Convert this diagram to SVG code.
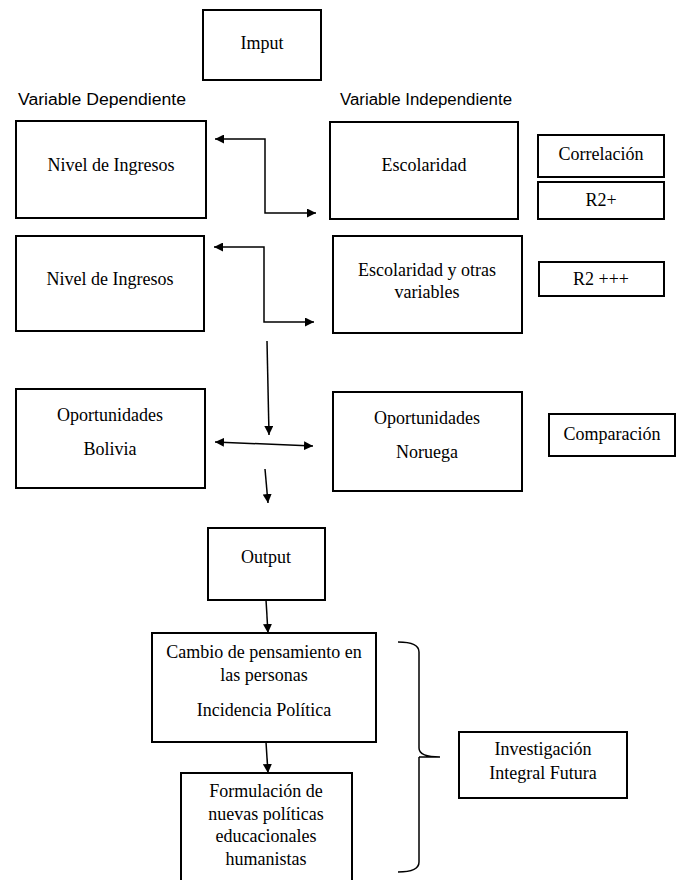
<svg xmlns="http://www.w3.org/2000/svg" width="677" height="880" viewBox="0 0 677 880">
<style>
.box{fill:#fff;stroke:#000;stroke-width:2}
.t{font-family:"Liberation Serif","Times New Roman",serif;font-size:18px;fill:#000;text-anchor:middle}
.s{font-family:"Liberation Sans",Arial,sans-serif;font-size:16px;fill:#000}
.c{fill:none;stroke:#000;stroke-width:1.5}
</style>
<defs>
<marker id="ah" viewBox="0 0 10 10" refX="10" refY="5" markerWidth="9" markerHeight="9" markerUnits="userSpaceOnUse" orient="auto-start-reverse">
<path d="M0,0 L10,5 L0,10 Z" fill="#000"/>
</marker>
</defs>
<rect width="677" height="880" fill="#fff"/>
<g id="imput"><rect class="box" x="203" y="10" width="118" height="70"/><text class="t" x="262" y="49">Imput</text></g>
<text class="s" x="18" y="105" textLength="168" lengthAdjust="spacingAndGlyphs">Variable Dependiente</text>
<text class="s" x="340" y="105" textLength="172" lengthAdjust="spacingAndGlyphs">Variable Independiente</text>
<g id="nivel1"><rect class="box" x="16" y="121" width="190" height="97"/><text class="t" x="111" y="171">Nivel de Ingresos</text></g>
<g id="escolaridad"><rect class="box" x="330" y="122" width="188" height="97"/><text class="t" x="424" y="171">Escolaridad</text></g>
<g id="correlacion"><rect class="box" x="538" y="135" width="126" height="42"/><text class="t" x="601" y="160">Correlación</text></g>
<g id="r2plus"><rect class="box" x="538" y="182" width="126" height="37"/><text class="t" x="601" y="206">R2+</text></g>
<g id="nivel2"><rect class="box" x="16" y="236" width="188" height="95"/><text class="t" x="110" y="285">Nivel de Ingresos</text></g>
<g id="escolaridad2"><rect class="box" x="333" y="236" width="189" height="97"/><text class="t" x="427" y="276">Escolaridad y otras</text><text class="t" x="427" y="298">variables</text></g>
<g id="r2ppp"><rect class="box" x="539" y="262" width="125" height="34"/><text class="t" x="601" y="285">R2 +++</text></g>
<g id="bolivia"><rect class="box" x="16" y="389" width="189" height="99"/><text class="t" x="110" y="421">Oportunidades</text><text class="t" x="110" y="455">Bolivia</text></g>
<g id="noruega"><rect class="box" x="333" y="392" width="189" height="99"/><text class="t" x="427" y="424">Oportunidades</text><text class="t" x="427" y="458">Noruega</text></g>
<g id="comparacion"><rect class="box" x="549" y="414" width="126" height="42"/><text class="t" x="612" y="440">Comparación</text></g>
<g id="output"><rect class="box" x="208" y="528" width="117" height="72"/><text class="t" x="266" y="563">Output</text></g>
<g id="cambio"><rect class="box" x="152" y="633" width="224" height="109"/><text class="t" x="264" y="658">Cambio de pensamiento en</text><text class="t" x="264" y="681">las personas</text><text class="t" x="264" y="716">Incidencia Política</text></g>
<g id="formulacion"><rect class="box" x="181" y="773" width="171" height="120"/><text class="t" x="266" y="797">Formulación de</text><text class="t" x="266" y="820">nuevas políticas</text><text class="t" x="266" y="842">educacionales</text><text class="t" x="266" y="865">humanistas</text></g>
<g id="investigacion"><rect class="box" x="459" y="732" width="168" height="66"/><text class="t" x="543" y="755">Investigación</text><text class="t" x="543" y="779">Integral Futura</text></g>
<g id="connectors">
<path class="c" d="M215,139 H265 V213 H316" marker-start="url(#ah)" marker-end="url(#ah)"/>
<path class="c" d="M214,247 H264 V322 H314" marker-start="url(#ah)" marker-end="url(#ah)"/>
<path class="c" d="M267,341 L269,435" marker-end="url(#ah)"/>
<path class="c" d="M215,442 L313,446" marker-start="url(#ah)" marker-end="url(#ah)"/>
<path class="c" d="M265,469 L268,503" marker-end="url(#ah)"/>
<path class="c" d="M266,600 L268,633" marker-end="url(#ah)"/>
<path class="c" d="M266,742 L268,773" marker-end="url(#ah)"/>
<path class="c" d="M398,642 Q419,642 419,652 V748 Q419,757 440,757 M419,757 Q419,766 419,775 V862 Q419,872 398,872 M419,757 Q423,757 440,757"/>
</g>
</svg>
